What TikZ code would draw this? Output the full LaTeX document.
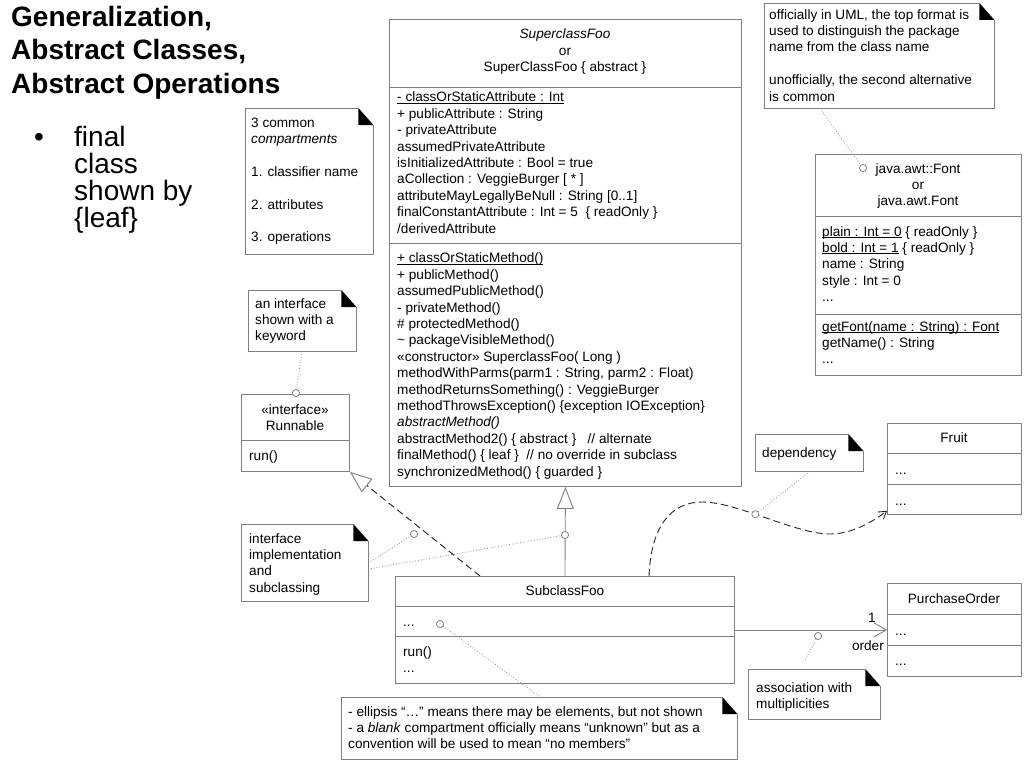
\documentclass[tikz,border=0pt]{standalone}
\usepackage{fontspec}
\setmainfont{Liberation Sans}
\usetikzlibrary{arrows.meta}
\definecolor{bgray}{gray}{0.5}
\definecolor{lgray}{gray}{0.55}
\definecolor{dgray}{gray}{0.15}
\newcommand\bxf{\fontsize{13.6}{16.4}\selectfont}
\newcommand\uln[1]{\setbox0\hbox{#1}\rlap{\rule[-1.7pt]{\wd0}{0.7pt}}\box0\relax}
\newcommand\notebox[5]{%
  \node[notebg,minimum width=#4pt,minimum height=#5pt] (#1) at (#2,#3) {};
  \draw[bline] ([xshift=-15pt]#1.north east) -- (#1.north west) -- (#1.south west) -- (#1.south east) -- ([yshift=-17pt]#1.north east);
  \fill ([xshift=-15pt]#1.north east) -- ([xshift=-15pt,yshift=-17pt]#1.north east) -- ([yshift=-17pt]#1.north east) -- cycle;
}
\tikzset{
  bline/.style={draw=bgray, line width=0.9pt},
  umlbox/.style={draw=bgray, line width=0.9pt, fill=white, inner sep=0, anchor=north west},
  notebg/.style={inner sep=0, anchor=north west, fill=white},
  txt/.style={anchor=base west, inner sep=0, align=left, font=\bxf},
  ctxt/.style={anchor=base, inner sep=0, align=center, font=\bxf},
  circ/.style={circle, solid, draw=bgray, fill=white, inner sep=0, minimum size=7pt, line width=0.7pt},
  notelink/.style={draw=lgray, dotted, line width=0.8pt},
  gen/.style={draw=bgray, line width=0.9pt, -{Triangle[open, length=22pt, width=17pt]}},
  realize/.style={draw=dgray, line width=0.9pt, dash pattern=on 7pt off 4pt, -{Triangle[open, length=22pt, width=17pt, color=bgray]}},
  depend/.style={draw=dgray, line width=0.9pt, dash pattern=on 7pt off 4pt, -{Straight Barb[length=7pt, width=9pt]}},
  assoc/.style={draw=bgray, line width=0.9pt, -{Straight Barb[length=12pt, width=14pt]}}
}
\begin{document}
\begin{tikzpicture}[x=1pt,y=-1pt]
\useasboundingbox[fill=white] (0,0) rectangle (1024,768);

% title and bullet (multi-line nodes are anchored at their last baseline)
\node[anchor=base west, inner sep=0, align=left, font=\fontsize{28}{33.5}\selectfont\bfseries] (title) at (11,93) {Generalization,\\Abstract Classes,\\Abstract Operations};
\node[anchor=base west, inner sep=0, font=\fontsize{28}{27}\selectfont] (bullet) at (34,146) {•};
\node[anchor=base west, inner sep=0, align=left, font=\fontsize{28}{27}\selectfont] (btext) at (74,227) {final\\class\\shown by\\\{leaf\}};

% SuperclassFoo
\node[umlbox, minimum width=352pt, minimum height=467pt] (super) at (389,19) {};
\draw[bline] (389,87) -- (741,87);
\draw[bline] (389,243) -- (741,243);
\node[ctxt] (supname) at (565,71.5) {\textit{SuperclassFoo}\\or\\SuperClassFoo \{ abstract \}};
\node[txt] (supattr) at (397,233) {\uln{- classOrStaticAttribute : Int}\\+ publicAttribute : String\\- privateAttribute\\assumedPrivateAttribute\\isInitializedAttribute : Bool = true\\aCollection : VeggieBurger [ * ]\\attributeMayLegallyBeNull : String [0..1]\\finalConstantAttribute : Int = 5~~\{ readOnly \}\\/derivedAttribute};
\node[txt] (supops) at (397,476) {\uln{+ classOrStaticMethod()}\\+ publicMethod()\\assumedPublicMethod()\\- privateMethod()\\\# protectedMethod()\\\textasciitilde{} packageVisibleMethod()\\«constructor» SuperclassFoo( Long )\\methodWithParms(parm1 : String, parm2 : Float)\\methodReturnsSomething() : VeggieBurger\\methodThrowsException() \{exception IOException\}\\\textit{abstractMethod()}\\abstractMethod2() \{ abstract \}~~~// alternate\\finalMethod() \{ leaf \}~~// no override in subclass\\synchronizedMethod() \{ guarded \}};

% java.awt.Font
\node[umlbox, minimum width=206pt, minimum height=221pt] (font) at (815,154) {};
\draw[bline] (815,216) -- (1021,216);
\draw[bline] (815,314) -- (1021,314);
\node[ctxt] (fontname) at (918,205.8) {java.awt::Font\\or\\java.awt.Font};
\node[txt] (fontattr) at (822,301.6) {\uln{plain : Int = 0} \{ readOnly \}\\\uln{bold : Int = 1} \{ readOnly \}\\name : String\\style : Int = 0\\...};
\node[txt] (fontops) at (822,363.8) {\uln{getFont(name : String) : Font}\\getName() : String\\...};
\node[circ] (fontcirc) at (863,168) {};

% Runnable
\node[umlbox, minimum width=108pt, minimum height=77pt] (run) at (241,394) {};
\draw[bline] (241,440) -- (349,440);
\node[ctxt] (runname) at (295,430.4) {«interface»\\Runnable};
\node[txt] (runops) at (249,460) {run()};
\node[circ] (runcirc) at (296,393) {};

% SubclassFoo
\node[umlbox, minimum width=339pt, minimum height=107pt] (sub) at (395,576) {};
\draw[bline] (395,606) -- (734,606);
\draw[bline] (395,636) -- (734,636);
\node[ctxt] (subname) at (565,595) {SubclassFoo};
\node[txt] (subattr) at (403,626) {...};
\node[txt] (subops) at (403,672.4) {run()\\...};
\node[circ] (subcirc) at (440,624) {};

% Fruit
\node[umlbox, minimum width=134pt, minimum height=91pt] (fruit) at (887,423) {};
\draw[bline] (887,453) -- (1021,453);
\draw[bline] (887,484) -- (1021,484);
\node[ctxt] (fruitname) at (954,442) {Fruit};
\node[txt] (fruitattr) at (895,474) {...};
\node[txt] (fruitops) at (895,505) {...};

% PurchaseOrder
\node[umlbox, minimum width=134pt, minimum height=93pt] (po) at (887,583) {};
\draw[bline] (887,614) -- (1021,614);
\draw[bline] (887,645) -- (1021,645);
\node[ctxt] (poname) at (954,603) {PurchaseOrder};
\node[txt] (poattr) at (895,635) {...};
\node[txt] (poops) at (895,665) {...};

% notes
\notebox{topnote}{764}{3}{230}{105}
\node[txt] (topnotetext) at (769,101) {officially in UML, the top format is\\used to distinguish the package\\name from the class name\\[16.4pt]unofficially, the second alternative\\is common};

\notebox{compnote}{245}{108}{128}{146}
\node[txt] (compnotetext) at (251,241.8) {3 common\\\textit{compartments}\\[16.4pt]1. classifier name\\[16.4pt]2. attributes\\[16.4pt]3. operations};

\notebox{ifnote}{248}{290}{108}{61}
\node[txt] (ifnotetext) at (255,340.8) {an interface\\shown with a\\keyword};

\notebox{implnote}{241}{524}{127}{77}
\node[txt] (implnotetext) at (249,592.2) {interface\\implementation\\and\\subclassing};

\notebox{depnote}{755}{434}{108}{37}
\node[txt] (depnotetext) at (762,457) {dependency};

\notebox{assocnote}{748}{669}{132}{50}
\node[txt] (assocnotetext) at (756,708.4) {association with\\multiplicities};

\notebox{botnote}{341}{697}{396}{62}
\node[txt] (botnotetext) at (348,748.8) {- ellipsis “…” means there may be elements, but not shown\\- a \textit{blank} compartment officially means “unknown” but as a\\convention will be used to mean “no members”};

% connectors
\coordinate (realstart) at ([xshift=85pt]sub.north west);
\draw[realize] (realstart) -- (run.south east);
\draw[gen] (sub.north) -- (super.south);
\node[circ] (implcirc1) at (414,534) {};
\node[circ] (implcirc2) at (565,535) {};
\draw[notelink] ([yshift=-39pt]implnote.north east) -- (implcirc1);
\draw[notelink] ([yshift=-45pt]implnote.north east) -- (implcirc2);

\coordinate (depstart) at ([xshift=254pt]sub.north west);
\coordinate (depend) at ([yshift=4pt]fruit.south west);
\draw[depend] (depstart) .. controls (651,525) and (672,502) .. (702,502)
  .. controls (738,502) and (795,534) .. (830,534) node[circ, pos=0.42] (depcirc) {}
  .. controls (852,534) and (872,522) .. (depend);
\draw[notelink] ([xshift=55pt]depnote.south west) -- (depcirc);

\draw[assoc] (sub.east) -- (po.west);
\node[anchor=base, inner sep=0, font=\bxf] (mult) at (872,622) {1};
\node[anchor=base east, inner sep=0, font=\bxf] (role) at (884,650) {order};
\node[circ] (assoccirc) at (818,636) {};
\coordinate (assocend) at (803,664);
\draw[notelink] (assoccirc) -- (assocend);

\coordinate (topnotelink) at ([xshift=56pt]topnote.south west);
\draw[notelink] (topnotelink) -- (fontcirc);
\coordinate (ifnotelink) at ([xshift=54pt]ifnote.south west);
\draw[notelink] (ifnotelink) -- (runcirc);
\coordinate (botnotelink) at ([xshift=199pt]botnote.north west);
\draw[notelink] (subcirc) -- (botnotelink);

% redraw circles on top
\node[circ] at (fontcirc) {};
\node[circ] at (runcirc) {};
\node[circ] at (subcirc) {};
\node[circ] at (implcirc1) {};
\node[circ] at (implcirc2) {};
\node[circ] at (assoccirc) {};
\end{tikzpicture}
\end{document}
